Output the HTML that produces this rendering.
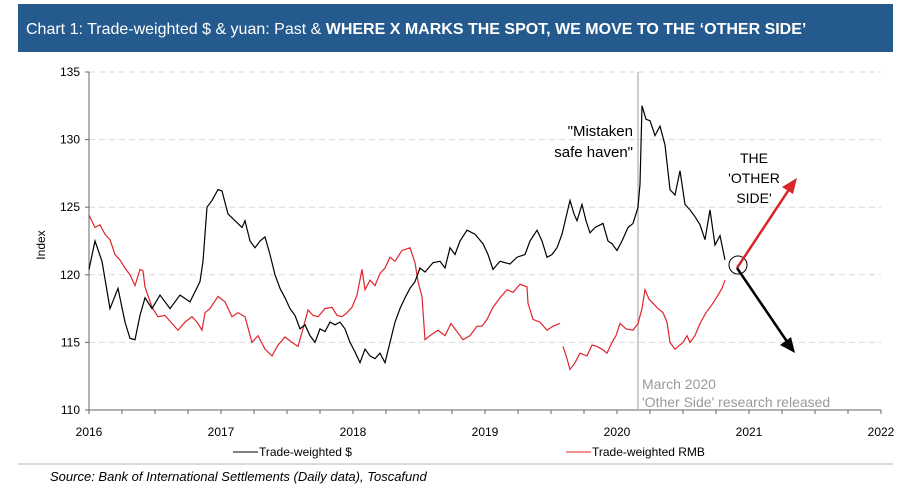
<!DOCTYPE html>
<html><head><meta charset="utf-8"><style>
body{margin:0;background:#fff;width:899px;height:490px;overflow:hidden;font-family:"Liberation Sans",sans-serif}
</style></head><body>
<svg width="899" height="490" xmlns="http://www.w3.org/2000/svg">
<rect x="18" y="4" width="875" height="48" fill="#245a8d"/>
<text x="26" y="34" fill="#fff" font-size="16">Chart 1: Trade-weighted $ &amp; yuan: Past &amp; <tspan font-weight="bold">WHERE X MARKS THE SPOT, WE MOVE TO THE ‘OTHER SIDE’</tspan></text>
<g id="grid"></g>
<g id="axes"></g>
<line x1="638" y1="72" x2="638" y2="410" stroke="#bbb" stroke-width="1.5"/>
<g id="series"></g>
<text x="45" y="245" font-size="12" transform="rotate(-90 45 245)" text-anchor="middle">Index</text>
<text x="633" y="136" font-size="15" text-anchor="end">"Mistaken</text>
<text x="633" y="157" font-size="15" text-anchor="end">safe haven"</text>
<text x="754" y="163" font-size="14" text-anchor="middle">THE</text>
<text x="754" y="183" font-size="14" text-anchor="middle">'OTHER</text>
<text x="754" y="203" font-size="14" text-anchor="middle">SIDE'</text>
<text x="642" y="389" font-size="14" fill="#999">March 2020</text>
<text x="642" y="407" font-size="14" fill="#999">'Other Side' research released</text>
<circle cx="738" cy="265" r="9" fill="none" stroke="#000"/>
<line x1="737" y1="268" x2="790" y2="188" stroke="#d9252a" stroke-width="2.5"/>
<polygon points="797,178 782,187 793,194" fill="#d9252a"/>
<line x1="737" y1="268" x2="788" y2="343" stroke="#000" stroke-width="2.5"/>
<polygon points="795,353 780,345 791,337" fill="#000"/>
<line x1="233" y1="452" x2="258" y2="452" stroke="#000"/>
<text x="259" y="456" font-size="12">Trade-weighted $</text>
<line x1="566" y1="452" x2="591" y2="452" stroke="#e0242b"/>
<text x="592" y="456" font-size="12">Trade-weighted RMB</text>
<line x1="18" y1="464" x2="893" y2="464" stroke="#aab8cc"/>
<text x="50" y="481" font-size="13" font-style="italic">Source: Bank of International Settlements (Daily data), Toscafund</text>
</svg>
<script>
const yTicks=[110,115,120,125,130,135];
const xTicks=[2016,2017,2018,2019,2020,2021,2022];
const usdX=[89,95,102,110,118,125,130,135,140,145,152,160,170,180,190,200,203,207,212,218,222,228,235,242,245,250,255,260,265,270,275,280,285,290,295,300,305,310,315,320,325,330,335,340,345,350,355,360,365,370,375,380,385,390,395,400,405,410,415,420,425,433,440,445,450,455,460,467,475,483,488,493,500,510,517,525,530,537,542,547,552,557,562,570,574,577,582,586,590,595,603,608,612,617,622,628,633,636,638,640,642,646,650,655,660,665,670,675,680,685,690,695,700,705,710,715,720,725];
const usdV=[120.4,122.5,121,117.5,119,116.5,115.3,115.2,117,118.3,117.5,118.5,117.5,118.5,118,119.5,121,125,125.5,126.3,126.2,124.5,124,123.5,124,122.5,122,122.5,122.8,121.5,120,119,118.3,117.5,117,116,116.3,115.5,115,116,115.8,116.5,116.3,116.5,116,115,114.3,113.5,114.5,114,113.8,114.2,113.5,115,116.5,117.5,118.3,119,119.5,120.5,120.2,120.9,121,120.5,122,121.5,122.5,123.3,123,122.3,121.5,120.4,121,120.8,121.3,121.5,122.5,123.3,122.5,121.3,121.5,122,123,125.5,124.5,124,125.2,124,123.1,123.5,123.8,122.5,122.3,121.8,122.5,123.5,123.8,124.5,125,126.7,132.5,131.5,131.4,130.3,131,129.6,126.3,125.9,127.7,125.2,124.8,124.3,123.7,122.6,124.8,122.2,122.9,121.1];
const rmbX=[89,95,100,105,110,115,120,125,130,135,140,143,145,152,158,165,172,178,185,192,197,202,205,210,218,225,232,238,245,252,258,265,272,278,285,292,298,303,308,313,318,325,332,337,342,347,352,357,362,365,370,375,380,385,390,395,402,410,415,418,422,425,430,438,445,451,457,463,470,477,482,487,493,500,507,513,520,527,528,533,540,547,553,560];
const rmbV=[124.4,123.5,123.7,123,122.6,121.5,121.1,120.5,120,119.2,120.4,120.3,119.1,117.6,116.9,117,116.4,115.9,116.5,116.9,116.5,115.9,117.2,117.5,118.4,118,116.9,117.2,116.9,115,115.5,114.5,114,114.8,115.4,115,114.7,116,117.4,117,116.9,117.5,117.6,117,116.9,117.2,117.6,118.5,120.4,118.9,119.6,119.2,120.1,120.5,121.3,121,121.8,122,120.9,119.5,118.4,115.2,115.5,115.9,115.5,116.4,115.8,115.2,115.5,116.2,116.2,116.7,117.6,118.3,118.9,118.7,119.3,119.1,117.9,116.7,116.5,115.9,116.2,116.4];
const rmbX2=[563,567,570,575,580,587,592,597,602,607,612,616,620,626,633,638,642,645,649,653,658,663,667,670,675,683,687,690,695,700,706,713,718,722,725];
const rmbV2=[114.7,113.8,113,113.5,114.2,114,114.8,114.7,114.5,114.2,115,115.5,116.4,116,115.9,116.4,117.5,118.9,118.2,117.9,117.5,117.2,116.5,115,114.5,115,115.5,115,115.5,116.4,117.2,117.9,118.5,119,119.6];
const X0=89,X1=881,Y0=410,Y1=72;
const xs=y=>X0+(y-2016)*(X1-X0)/6;
const ys=v=>Y0-(v-110)*(Y0-Y1)/25;
const NS="http://www.w3.org/2000/svg";
const grid=document.getElementById('grid'),axes=document.getElementById('axes'),ser=document.getElementById('series');
function mk(tag,attrs,parent){const e=document.createElementNS(NS,tag);for(const k in attrs)e.setAttribute(k,attrs[k]);parent.appendChild(e);return e;}
yTicks.forEach(t=>{
 if(t>110){const g=mk('line',{x1:X0,x2:X1,y1:ys(t),y2:ys(t),stroke:'#d9d9d9','stroke-dasharray':'6,4'},grid);
 
 }
 const tk=mk('line',{x1:X0-4,x2:X0,y1:ys(t),y2:ys(t),stroke:'#666'},axes);
 
 
 const tx=mk('text',{x:X0-9,y:ys(t)+4,'font-size':12,'text-anchor':'end'},axes);tx.textContent=t;
 
 
});
const ya=mk('line',{x1:X0,x2:X0,y1:Y1,y2:Y0,stroke:'#666'},axes);


const xa=mk('line',{x1:X0,x2:X1,y1:Y0,y2:Y0,stroke:'#666'},axes);


for(let q=0;q<=24;q++){const t=mk('line',{x1:xs(2016+q/4),x2:xs(2016+q/4),y1:Y0,y2:Y0+4,stroke:'#666'},axes);
 
 }
xTicks.forEach(t=>{const tx=mk('text',{x:xs(t),y:Y0+26,'font-size':12,'text-anchor':'middle'},axes);tx.textContent=t;
 
 });
function line(xp,vals,color,name){
 const pts=xp.map((x,i)=>xs(2016+(x-X0)/132)+','+ys(vals[i])).join(' ');
 const p=mk('polyline',{points:pts,fill:'none',stroke:color,'stroke-width':1.2},ser);
 
 
}
line(rmbX,rmbV,'#e0242b','rmb-line');
line(rmbX2,rmbV2,'#e0242b','rmb-line-late');
line(usdX,usdV,'#000','usd-line');
</script>
</body></html>
